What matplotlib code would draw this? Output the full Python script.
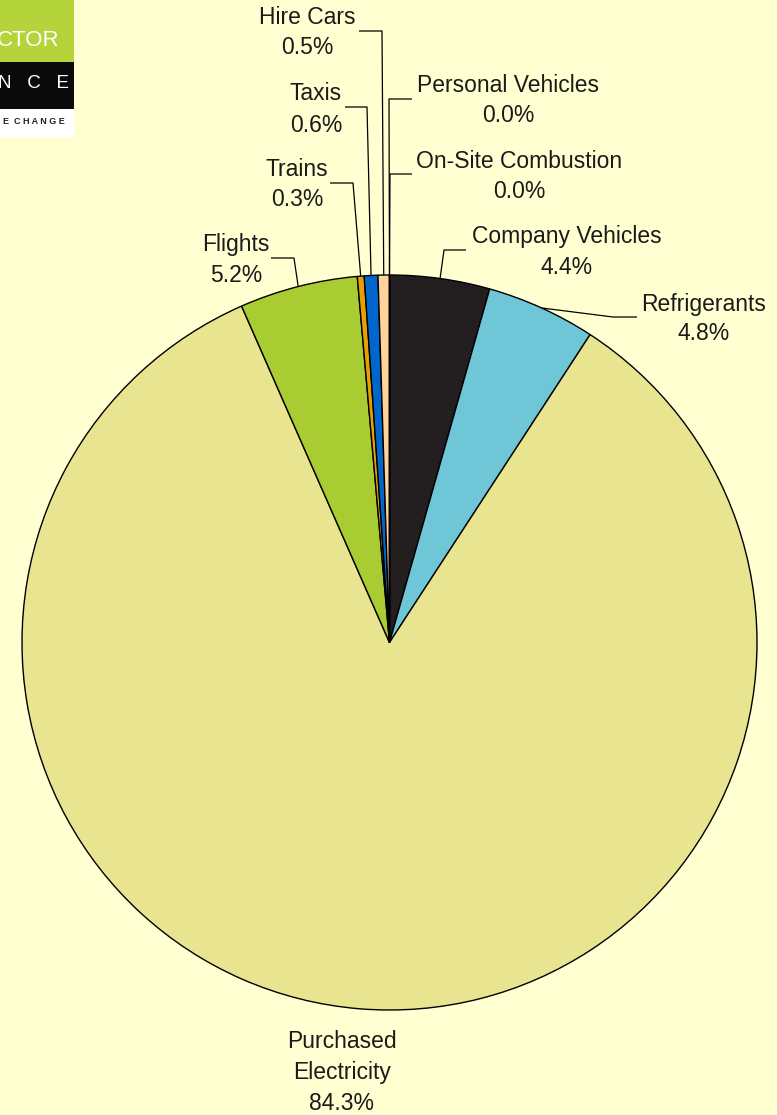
import numpy as np
import matplotlib.pyplot as plt
from matplotlib.patches import Rectangle

plt.rcParams['font.family'] = ['Liberation Sans', 'DejaVu Sans']

# data, clockwise from 12 o'clock
categories = ["Company Vehicles", "Refrigerants", "Purchased\nElectricity", "Flights",
              "Trains", "Taxis", "Hire Cars", "Personal Vehicles", "On-Site Combustion"]
shares = [4.4, 4.8, 84.3, 5.2, 0.3, 0.6, 0.5, 0.0, 0.0]
pct_labels = ["4.4%", "4.8%", "84.3%", "5.2%", "0.3%", "0.6%", "0.5%", "0.0%", "0.0%"]
colors = ["#231F20", "#6EC6D6", "#E8E490", "#AACC33", "#E8A000", "#0066CC",
          "#FFD39B", "#FFD39B", "#FFD39B"]

W, H = 777, 1115
BG = "#FFFFD2"
TXT = "#1A1A1A"


def Y(py):
    # pixel row -> data y
    return H - py


fig = plt.figure(figsize=(W / 100, H / 100), dpi=100, facecolor=BG)
ax = fig.add_axes([0, 0, 1, 1])
ax.set_facecolor(BG)

cx, cy, r = 389.5, 642.5, 367.5
ax.pie(shares, colors=colors, startangle=90, counterclock=False,
       center=(cx, Y(cy)), radius=r,
       wedgeprops=dict(edgecolor="black", linewidth=1.0))

# label layout: name center, pct center, elbow of leader, end of leader (pixels)
layout = {
    "Company Vehicles": ((567, 237), (567, 267), (444, 250), (466, 250)),
    "Refrigerants": ((704, 304), (704, 334), (613, 317), (637, 317)),
    "Flights": ((236, 245), (236, 276), (294, 258), (271, 258)),
    "Trains": ((297, 169), (297, 200), (353, 183), (330, 183)),
    "Taxis": ((316, 93), (316, 125), (367, 107), (345, 107)),
    "Hire Cars": ((307, 18), (307, 47), (382, 31), (359, 31)),
    "Personal Vehicles": ((508, 85), (508, 116), (389, 99), (412, 99)),
    "On-Site Combustion": ((519, 161), (519, 191), (390, 174), (412, 174)),
}

total = sum(shares)
cum = np.cumsum([0] + shares)
for i, name in enumerate(categories):
    if name in layout:
        (nx, ny), (px, py), (ex, ey), (tx, ty) = layout[name]
        mid = (cum[i] + cum[i + 1]) / 2 / total * 2 * np.pi
        ax_ = cx + r * np.sin(mid)
        ay_ = Y(cy) + r * np.cos(mid)
        ax.plot([ax_, ex, tx], [ay_, Y(ey), Y(ty)], color="black", lw=0.9,
                solid_capstyle="butt")
        ax.text(nx, Y(ny), name, ha="center", va="center", fontsize=16.5, color=TXT)
        ax.text(px, Y(py), pct_labels[i], ha="center", va="center", fontsize=16.5, color=TXT)
    else:
        for k, line in enumerate(name.split("\n") + [pct_labels[i]]):
            ax.text(342, Y(1042 + 31 * k), line, ha="center", va="center",
                    fontsize=16.5, color=TXT)

# partial logo in the corner
ax.add_patch(Rectangle((0, Y(62)), 74, 62, color="#B5D33A", lw=0))
ax.add_patch(Rectangle((0, Y(109)), 74, 47, color="#0A0A0A", lw=0))
ax.add_patch(Rectangle((0, Y(137)), 74, 28, color="white", lw=0))
ax.text(59, Y(40), "CTOR", ha="right", va="center", fontsize=16, color="white")
ax.text(69, Y(84), "N   C   E", ha="right", va="center", fontsize=13.5, color="white")
ax.text(65, Y(122), "E  C H A N G E", ha="right", va="center", fontsize=6.5,
        fontweight="bold", color="#222222")

ax.set_xlim(0, W)
ax.set_ylim(0, H)
ax.set_aspect("equal")
ax.axis("off")

fig.savefig("out.png", dpi=100, facecolor=BG)
